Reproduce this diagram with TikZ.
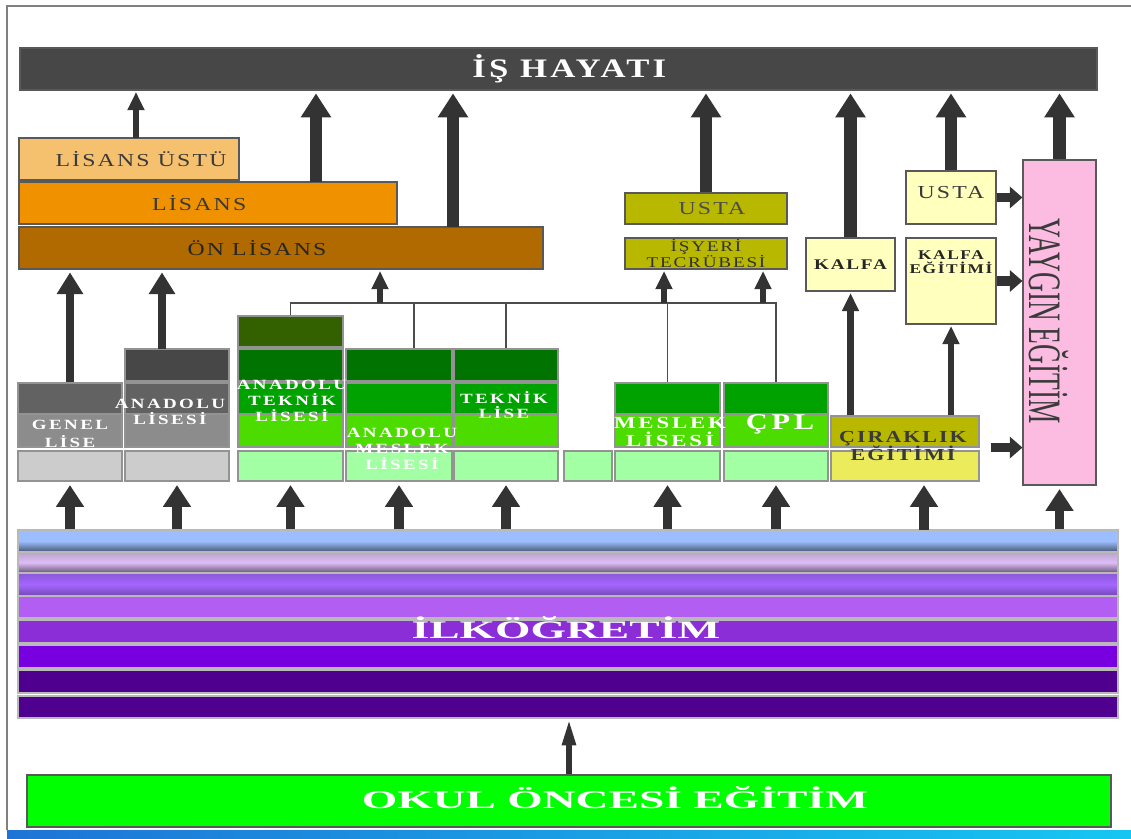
\documentclass[tikz,border=0pt]{standalone}
\usepackage{fontspec}
\setmainfont{Liberation Serif}
\newfontfamily\wide[FakeStretch=1.3, LetterSpace=12]{Liberation Serif}
\newfontfamily\colfont[FakeStretch=1.35, LetterSpace=17]{Liberation Serif}
\usetikzlibrary{arrows.meta,fit,positioning,calc}

\definecolor{ishcol}{HTML}{474747}
\definecolor{arrcol}{HTML}{333333}
\definecolor{lisustu}{HTML}{F6C16E}
\definecolor{lisans}{HTML}{F09100}
\definecolor{onlisans}{HTML}{B06A00}
\definecolor{olive}{HTML}{B8B800}
\definecolor{paleyel}{HTML}{FFFFBE}
\definecolor{yaygin}{HTML}{FCBCE2}
\definecolor{gry1}{HTML}{474747}
\definecolor{gry2}{HTML}{626262}
\definecolor{gry3}{HTML}{8C8C8C}
\definecolor{gry4}{HTML}{CCCCCC}
\definecolor{grn0}{HTML}{346100}
\definecolor{grn1}{HTML}{007300}
\definecolor{grn2}{HTML}{00A200}
\definecolor{grn3}{HTML}{4CDC00}
\definecolor{grn4}{HTML}{A3FFA3}
\definecolor{ciryel}{HTML}{EBEB5C}
\definecolor{txtgry}{HTML}{3A3A3A}
\definecolor{okulcol}{HTML}{00FF00}
\definecolor{bnd1}{HTML}{9CBEFF}
\definecolor{bnd2}{HTML}{DEBDF8}
\definecolor{bnd3}{HTML}{A466FF}
\definecolor{bnd4}{HTML}{B35EF2}
\definecolor{bnd5}{HTML}{8C2ED8}
\definecolor{bnd6}{HTML}{7800E0}
\definecolor{bnd7}{HTML}{50008F}
\definecolor{taskl}{HTML}{1E74D6}
\definecolor{taskr}{HTML}{16C6F2}

\tikzset{
  blk/.style={draw=black!65, line width=0.8pt, inner sep=0pt},
  cell/.style={draw=gray!85, line width=0.8pt, inner sep=0pt},
  band/.style={draw=gray!55, line width=0.8pt, inner sep=0pt},
  toptxt/.style={text=txtgry, font=\wide\fontsize{13}{15}\selectfont},
  coltxt/.style={text=white, align=center, inner sep=0pt,
    font=\colfont\bfseries\fontsize{10}{11.3}\selectfont},
  bigup/.style={draw=arrcol, line width=9pt, shorten >=2pt, -{Triangle[width=20.5pt,length=17pt]}},
  midup/.style={draw=arrcol, line width=5.5pt, shorten >=2pt, -{Triangle[width=18pt,length=15.5pt]}},
  botup/.style={draw=arrcol, line width=7pt, shorten >=2.5pt, -{Triangle[width=19pt,length=15.5pt]}},
  thinup/.style={draw=arrcol, line width=4.5pt, shorten >=1pt, -{Triangle[width=11.5pt,length=13pt]}},
  sidearr/.style={draw=arrcol, line width=7pt, -{Triangle[width=15pt,length=9pt]}},
  okarr/.style={draw=arrcol, line width=4.3pt, -{Triangle[width=9pt,length=19pt]}},
  treeln/.style={draw=black!70, line width=1pt},
}

\begin{document}
\begin{tikzpicture}[x=0.025cm, y=-0.025cm]
  \useasboundingbox (0,0) rectangle (1131,839);
  \fill[white] (0,0) rectangle (1131,839);
  % slide frame
  \shade[left color=taskl, right color=taskr] (7,830) rectangle (1131,839);
  \draw[gray, line width=1.4pt] (7,830) -- (7,6) -- (1131,6);

  % top row
  \node[blk, fill=ishcol, fit={(20,48)(1097,90)},
    label={[text=white, xshift=0.27cm, font=\wide\bfseries\fontsize{19}{22}\selectfont]center:İŞ HAYATI}] (ish) {};

  \node[blk, fill=lisustu, fit={(19,138)(239,180)}, label={[toptxt, xshift=0.3cm]center:LİSANS ÜSTÜ}] (lisu) {};
  \node[blk, fill=lisans, fit={(19,182)(397,224)}, label={[toptxt, xshift=-0.22cm]center:LİSANS}] (lis) {};
  \node[blk, fill=onlisans, fit={(19,227)(543,269)}, label={[toptxt, text=black!85, xshift=-0.6cm]center:ÖN LİSANS}] (onl) {};

  \node[blk, fill=olive, fit={(625,193)(787,224)}, label={[toptxt, text=black!70, xshift=0.15cm]center:USTA}] (usta) {};
  \node[blk, fill=olive, fit={(625,238)(787,269)},
    label={[text=black!80, align=center, font=\wide\fontsize{10.5}{11.5}\selectfont]center:{İŞYERİ\\TECRÜBESİ}}] (isy) {};

  \node[blk, fill=paleyel, fit={(806,238)(895,291)},
    label={[text=black!85, font=\wide\bfseries\fontsize{10.5}{12}\selectfont]center:KALFA}] (kalfa) {};
  \node[blk, fill=paleyel, fit={(906,171)(996,224)}, label={[toptxt, yshift=0.12cm]center:USTA}] (ustar) {};
  \node[blk, fill=paleyel, fit={(906,238)(996,324)}] (kegt) {};
  \node[text=black!85, align=center, font=\wide\bfseries\fontsize{9.5}{10}\selectfont]
    (tkegt) at (951,262) {KALFA\\EĞİTİMİ};

  \node[blk, fill=yaygin, fit={(1023,160)(1096,485)}] (yay) {};
  \node[rotate=-90, text=txtgry, font=\fontsize{33}{36}\selectfont]
    (tyay) at (1049,321) {\scalebox{0.59}[1]{YAYGIN EĞİTİM}};

  % lise columns
  \node[cell, fill=gry2, fit={(18,383)(122,414)}] (gen1) {};
  \node[cell, fill=gry3, fit={(18,414)(122,447)}] (gen2) {};
  \node[cell, fill=gry4, fit={(18,451)(122,481)}] (gen3) {};
  \node[cell, fill=gry1, fit={(125,349)(229,381)}] (anl0) {};
  \node[cell, fill=gry2, fit={(125,383)(229,414)}] (anl1) {};
  \node[cell, fill=gry3, fit={(125,414)(229,447)}] (anl2) {};
  \node[cell, fill=gry4, fit={(125,451)(229,481)}] (anl3) {};

  \node[cell, fill=grn0, fit={(238,316)(343,347)}] (atl0) {};
  \node[cell, fill=grn1, fit={(238,349)(343,381)}] (atl1) {};
  \node[cell, fill=grn2, fit={(238,383)(343,414)}] (atl2) {};
  \node[cell, fill=grn3, fit={(238,414)(343,447)}] (atl3) {};
  \node[cell, fill=grn4, fit={(238,451)(343,481)}] (atl4) {};
  \node[cell, fill=grn1, fit={(346,349)(452,381)}] (aml1) {};
  \node[cell, fill=grn2, fit={(346,383)(452,414)}] (aml2) {};
  \node[cell, fill=grn3, fit={(346,414)(452,447)}] (aml3) {};
  \node[cell, fill=grn4, fit={(346,451)(452,481)}] (aml4) {};
  \node[cell, fill=grn1, fit={(454,349)(558,381)}] (tl1) {};
  \node[cell, fill=grn2, fit={(454,383)(558,414)}] (tl2) {};
  \node[cell, fill=grn3, fit={(454,414)(558,447)}] (tl3) {};
  \node[cell, fill=grn4, fit={(454,451)(558,481)}] (tl4) {};
  \node[cell, fill=grn4, fit={(564,451)(612,481)}] (sm) {};
  \node[cell, fill=grn2, fit={(615,383)(720,414)}] (ml2) {};
  \node[cell, fill=grn3, fit={(615,414)(720,447)}] (ml3) {};
  \node[cell, fill=grn4, fit={(615,451)(720,481)}] (ml4) {};
  \node[cell, fill=grn2, fit={(724,383)(828,414)}] (cpl2) {};
  \node[cell, fill=grn3, fit={(724,414)(828,447)}] (cpl3) {};
  \node[cell, fill=grn4, fit={(724,451)(828,481)}] (cpl4) {};
  \node[cell, fill=olive, fit={(831,416)(979,447)}] (cir1) {};
  \node[cell, fill=ciryel, fit={(831,451)(979,481)}] (cir2) {};

  \node[coltxt, font=\colfont\bfseries\fontsize{10}{12.8}\selectfont] (tgen) at (70,434) {GENEL\\LİSE};
  \node[coltxt] (tanl) at (170,412) {ANADOLU\\LİSESİ};
  \node[coltxt] (tatl) at (292,401) {ANADOLU\\TEKNİK\\LİSESİ};
  \node[coltxt] (taml) at (402,449) {ANADOLU\\MESLEK\\LİSESİ};
  \node[coltxt] (ttl) at (504,405) {TEKNİK\\LİSE};
  \node[coltxt, font=\colfont\bfseries\fontsize{12}{12.5}\selectfont] (tml) at (670,432) {MESLEK\\LİSESİ};
  \node[coltxt, font=\colfont\bfseries\fontsize{16}{18}\selectfont] (tcpl) at (780,424) {ÇPL};
  \node[text=txtgry, align=center, font=\wide\bfseries\fontsize{12}{13.5}\selectfont] (tcir) at (903,446) {ÇIRAKLIK\\EĞİTİMİ};

  % ilkogretim
  \node[band, fit={(18,530)(1118,552)}, top color=bnd1, bottom color=bnd1!45!black, middle color=bnd1] (ilk1) {};
  \node[band, fit={(18,552)(1118,573)}, top color=bnd2!60!gray, bottom color=bnd2!45!black, middle color=bnd2] (ilk2) {};
  \node[band, fit={(18,573)(1118,596)}, top color=bnd3!85!black, bottom color=bnd3!70!black, middle color=bnd3] (ilk3) {};
  \node[band, fill=bnd4, fit={(18,596)(1118,618)}] (ilk4) {};
  \node[band, fill=bnd5, fit={(18,620)(1118,643)}] (ilk5) {};
  \node[band, fill=bnd6, fit={(18,645)(1118,668)}] (ilk6) {};
  \node[band, fill=bnd7, fit={(18,670)(1118,693)}] (ilk7) {};
  \node[band, fill=bnd7, fit={(18,696)(1118,718)}] (ilk8) {};
  \node[text=white, font=\bfseries\fontsize{18}{20}\selectfont] (tilk) at (566,628)
    {\scalebox{1.8}[1]{İLKÖĞRETİM}};

  \node[blk, fill=okulcol, fit={(27,775)(1111,827)}] (okul) {};
  \node[text=white, font=\bfseries\fontsize{18}{20}\selectfont] (tokul) at (615,798)
    {\scalebox{1.8}[1]{OKUL ÖNCESİ EĞİTİM}};

  % arrows to is hayati
  \coordinate (lisuup) at (136,138);
  \coordinate (lisup) at (316,182);
  \coordinate (onlup) at (453,227);
  \draw[thinup] (lisuup) -- (lisuup |- ish.south);
  \draw[bigup] (lisup) -- (lisup |- ish.south);
  \draw[bigup] (onlup) -- (onlup |- ish.south);
  \draw[bigup] (usta.north) -- (usta.north |- ish.south);
  \draw[bigup] (kalfa.north) -- (kalfa.north |- ish.south);
  \draw[bigup] (ustar.north) -- (ustar.north |- ish.south);
  \draw[bigup] (yay.north) -- (yay.north |- ish.south);

  \draw[sidearr] (ustar.east) -- (ustar.east -| yay.west);
  \draw[sidearr] (kegt.east) -- (kegt.east -| yay.west);
  \draw[sidearr, shorten <=8pt] (cir1.south east) -- (cir1.south east -| yay.west);

  % liseler to on lisans
  \coordinate (anlup) at (162,349);
  \draw[midup] (gen1.north) -- (gen1.north |- onl.south);
  \draw[midup] (anlup) -- (anlup |- onl.south);

  \coordinate (bar) at (0,303);
  \coordinate (d1) at (414,303);
  \draw[treeln] (atl0.north) |- (cpl2.north |- bar) -- (cpl2.north);
  \draw[treeln] (d1) -- (d1 |- aml1.north);
  \draw[treeln] (tl1.north |- bar) -- (tl1.north);
  \draw[treeln] (ml2.north |- bar) -- (ml2.north);
  \coordinate (j1) at (380,303);
  \coordinate (j2) at (664,303);
  \coordinate (j3) at (763,303);
  \draw[thinup] (j1) -- (j1 |- onl.south);
  \draw[thinup] (j2) -- (j2 |- isy.south);
  \draw[thinup] (j3) -- (j3 |- isy.south);
  \draw[thinup] (kalfa.south |- cir1.north) -- (kalfa.south);
  \draw[thinup] (kegt.south |- cir1.north) -- (kegt.south);

  % ilkogretim to liseler
  \foreach \c in {gen3,anl3,atl4,aml4,tl4,ml4,cpl4,yay}
    \draw[botup] (\c.south |- ilk1.north) -- (\c.south);
  \coordinate (cirdn) at (924,530);
  \draw[botup] (cirdn) -- (cirdn |- cir2.south);

  \draw[okarr] (okul.north) -- (okul.north |- ilk8.south);
\end{tikzpicture}
\end{document}
